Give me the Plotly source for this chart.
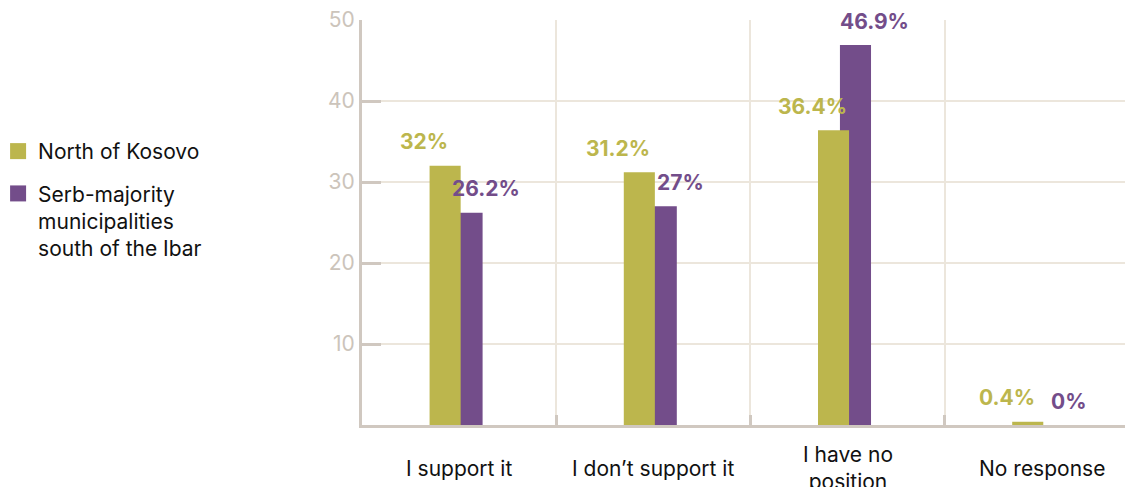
import plotly.graph_objects as go

categories = ["I support it", "I don\u2019t support it", "I have no<br>position", "No response"]
north = [32, 31.2, 36.4, 0.4]
south = [26.2, 27, 46.9, 0]
north_labels = ["32%", "31.2%", "36.4%", "0.4%"]
south_labels = ["26.2%", "27%", "46.9%", "0%"]
series_names = ["North of Kosovo", "Serb-majority<br>municipalities<br>south of the Ibar"]
y_ticks = [10, 20, 30, 40, 50]

OLIVE = "#bcb64d"
PURPLE = "#734d8a"
FONT = "Inter"
AXIS = "#d0c8c0"
GRID = "#ece6dc"

fig = go.Figure()
# purple first so olive overlaps it
fig.add_trace(go.Bar(x=categories, y=south, marker_color=PURPLE, width=0.16,
                     offset=-0.039, showlegend=False, marker_line_width=0))
fig.add_trace(go.Bar(x=categories, y=north, marker_color=OLIVE, width=0.16,
                     offset=-0.152, showlegend=False, marker_line_width=0))

# legend entries
for name, col, grp in [(series_names[0], OLIVE, "a"), (series_names[1], PURPLE, "b")]:
    fig.add_trace(go.Scatter(x=[None], y=[None], mode="markers", name=name,
                             legendgroup=grp,
                             marker=dict(symbol="square", size=18, color=col)))

annotations = []
for i, c in enumerate(categories):
    annotations.append(dict(x=c, y=north[i], xref="x", yref="y", text=north_labels[i],
                            showarrow=False, xshift=-35, yshift=24, yanchor="middle",
                            font=dict(family=FONT, size=21, color=OLIVE, weight="bold")))
    annotations.append(dict(x=c, y=south[i], xref="x", yref="y", text=south_labels[i],
                            showarrow=False, xshift=27, yshift=24, yanchor="middle",
                            font=dict(family=FONT, size=21, color=PURPLE, weight="bold")))
    annotations.append(dict(x=c, y=0, xref="x", yref="paper", text=c,
                            showarrow=False, yshift=-43, yanchor="middle",
                            font=dict(family=FONT, size=21, color="#111111")))

fig.update_layout(
    width=1125, height=479,
    margin=dict(l=354, r=0, t=12, b=62, autoexpand=False),
    paper_bgcolor="white", plot_bgcolor="white",
    barmode="overlay",
    font=dict(family=FONT),
    annotations=annotations,
    legend=dict(xref="paper", yref="paper", x=-0.472, y=0.726,
                xanchor="left", yanchor="top", valign="top",
                traceorder="grouped", tracegroupgap=12,
                font=dict(family=FONT, size=21, color="#111111"),
                bgcolor="rgba(0,0,0,0)"),
    xaxis=dict(range=[-0.5, 3.47], tickson="boundaries", showticklabels=False,
               showgrid=True, gridcolor=GRID, gridwidth=1.5,
               showline=True, linecolor=AXIS, linewidth=3,
               ticks="inside", ticklen=10, tickwidth=3, tickcolor=AXIS,
               fixedrange=True),
    yaxis=dict(range=[0, 50], tickvals=y_ticks, ticktext=[str(v) for v in y_ticks],
               showgrid=True, gridcolor=GRID, gridwidth=1.5,
               showline=True, linecolor=AXIS, linewidth=3,
               ticks="inside", ticklen=19, tickwidth=3, tickcolor=AXIS,
               tickfont=dict(family=FONT, size=21, color="#ccc4bb"),
               ticklabeloverflow="allow",
               zeroline=False, fixedrange=True),
)

fig.write_html("out.html")
